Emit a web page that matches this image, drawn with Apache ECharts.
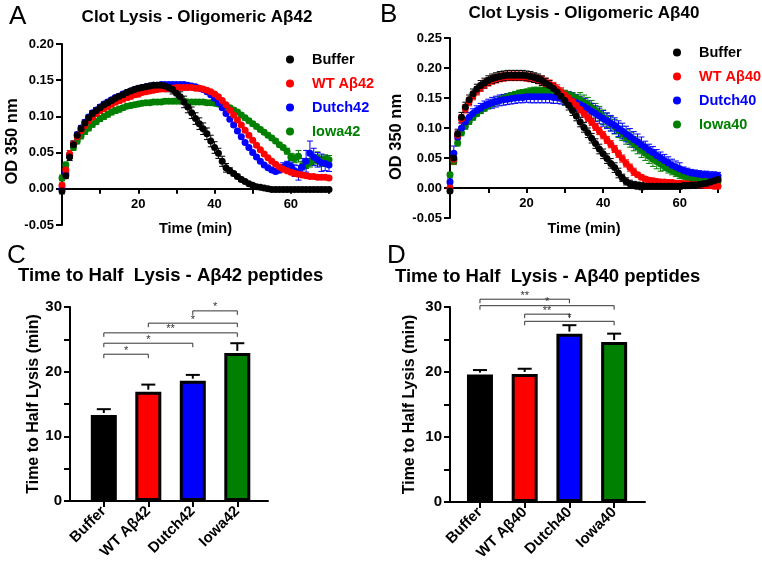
<!DOCTYPE html>
<html>
<head>
<meta charset="utf-8">
<script src="https://cdn.jsdelivr.net/npm/echarts@6/dist/echarts.min.js"></script>
<style>
  html, body { margin: 0; padding: 0; background: #fff; }
  #chart { width: 762px; height: 573px; }
</style>
</head>
<body>
<div id="chart"></div>
<script>
// time points (min) shared by both clot lysis panels
const minutes = [0,1,2,3,4,5,6,7,8,9,10,11,12,13,14,15,16,17,18,19,20,21,22,23,24,25,26,27,28,29,
  30,31,32,33,34,35,36,37,38,39,40,41,42,43,44,45,46,47,48,49,50,51,52,53,54,55,56,57,58,59,
  60,61,62,63,64,65,66,67,68,69,70];

// Panel A - Aβ42, OD 350 nm
const a42Buffer = [-0.003,0.018,0.044,0.061,0.074,0.083,0.091,0.098,0.104,0.108,
  0.112,0.116,0.119,0.122,0.125,0.128,0.130,0.133,0.135,0.137,
  0.139,0.140,0.141,0.142,0.143,0.143,0.143,0.142,0.140,0.137,
  0.132,0.127,0.120,0.113,0.105,0.097,0.090,0.083,0.076,0.066,
  0.057,0.049,0.038,0.029,0.025,0.021,0.017,0.013,0.010,0.007,
  0.005,0.003,0.002,0.001,0.000,-0.001,-0.001,-0.001,-0.001,-0.001,
  -0.001,-0.001,-0.001,-0.001,-0.001,-0.001,-0.001,-0.001,-0.001,-0.001,-0.001];
const a42Wt = [0.005,0.026,0.048,0.062,0.072,0.080,0.087,0.094,0.099,0.104,
  0.108,0.111,0.114,0.117,0.120,0.122,0.124,0.126,0.128,0.130,
  0.131,0.133,0.134,0.135,0.136,0.137,0.138,0.138,0.139,0.139,
  0.140,0.140,0.140,0.140,0.140,0.139,0.139,0.138,0.136,0.134,
  0.131,0.127,0.122,0.116,0.109,0.102,0.095,0.088,0.081,0.074,
  0.067,0.060,0.054,0.048,0.043,0.038,0.034,0.030,0.027,0.025,
  0.023,0.021,0.020,0.019,0.018,0.017,0.017,0.016,0.016,0.016,0.015];
const a42Dutch = [0.000,0.022,0.046,0.062,0.075,0.084,0.092,0.099,0.105,0.109,
  0.113,0.117,0.120,0.123,0.126,0.128,0.131,0.133,0.135,0.137,
  0.138,0.140,0.141,0.142,0.143,0.143,0.144,0.144,0.144,0.144,
  0.144,0.144,0.144,0.143,0.142,0.141,0.139,0.137,0.134,0.130,
  0.125,0.119,0.112,0.104,0.096,0.088,0.080,0.072,0.064,0.057,
  0.050,0.044,0.038,0.033,0.029,0.026,0.024,0.026,0.030,0.033,
  0.031,0.025,0.022,0.030,0.038,0.049,0.044,0.040,0.036,0.035,0.033];
const a42Iowa = [0.015,0.033,0.046,0.057,0.066,0.073,0.079,0.084,0.089,0.093,
  0.097,0.100,0.103,0.106,0.108,0.110,0.112,0.114,0.115,0.116,
  0.117,0.118,0.119,0.119,0.120,0.120,0.120,0.121,0.121,0.121,
  0.121,0.121,0.121,0.120,0.120,0.120,0.120,0.120,0.119,0.119,
  0.118,0.117,0.116,0.114,0.112,0.109,0.106,0.102,0.098,0.094,
  0.090,0.086,0.082,0.078,0.074,0.070,0.066,0.061,0.057,0.052,
  0.044,0.042,0.045,0.032,0.033,0.036,0.040,0.043,0.038,0.041,0.040];

const a42BufferErr = [0.004,0.004,0.005,0.005,0.004,0.004,0.004,0.004,0.004,0.004,
  0.004,0.003,0.003,0.003,0.003,0.003,0.003,0.003,0.003,0.003,
  0.003,0.003,0.003,0.003,0.003,0.003,0.003,0.003,0.006,0.006,
  0.007,0.007,0.008,0.008,0.008,0.008,0.008,0.008,0.008,0.008,
  0.008,0.007,0.007,0.006,0.004,0.003,0.003,0.003,0.002,0.002,
  0.002,0.001,0.001,0.001,0.001,0.001,0.001,0.001,0.001,0.001,
  0.001,0.001,0.001,0.001,0.001,0.001,0.001,0.001,0.001,0.001,0.001];
const a42WtErr = [0.003,0.004,0.005,0.004,0.004,0.004,0.004,0.004,0.004,0.004,
  0.004,0.004,0.004,0.004,0.004,0.004,0.004,0.004,0.004,0.004,
  0.004,0.002,0.002,0.002,0.002,0.002,0.002,0.002,0.002,0.002,
  0.002,0.002,0.002,0.002,0.002,0.002,0.002,0.002,0.002,0.002,
  0.002,0.002,0.002,0.002,0.002,0.002,0.002,0.002,0.002,0.002,
  0.002,0.002,0.002,0.002,0.002,0.002,0.002,0.002,0.002,0.002,
  0.002,0.002,0.002,0.002,0.002,0.002,0.002,0.002,0.002,0.002,0.002];
const a42DutchErr = [0.003,0.003,0.003,0.003,0.003,0.003,0.003,0.003,0.003,0.003,
  0.003,0.003,0.003,0.003,0.003,0.003,0.003,0.003,0.003,0.003,
  0.003,0.002,0.002,0.002,0.002,0.002,0.002,0.002,0.002,0.002,
  0.002,0.002,0.002,0.002,0.002,0.002,0.002,0.002,0.002,0.002,
  0.002,0.002,0.002,0.002,0.002,0.002,0.002,0.002,0.002,0.002,
  0.002,0.002,0.002,0.002,0.002,0.002,0.003,0.004,0.006,0.005,
  0.006,0.008,0.010,0.012,0.015,0.017,0.012,0.010,0.012,0.010,0.009];
const a42IowaErr = [0.004,0.004,0.004,0.004,0.004,0.004,0.004,0.004,0.004,0.004,
  0.004,0.004,0.004,0.004,0.004,0.004,0.003,0.003,0.003,0.003,
  0.003,0.003,0.003,0.003,0.003,0.003,0.003,0.003,0.003,0.003,
  0.003,0.003,0.003,0.003,0.003,0.003,0.003,0.003,0.003,0.003,
  0.003,0.003,0.003,0.003,0.003,0.003,0.003,0.003,0.003,0.003,
  0.003,0.003,0.003,0.003,0.003,0.003,0.003,0.003,0.003,0.004,
  0.005,0.006,0.008,0.006,0.005,0.006,0.007,0.008,0.007,0.006,0.006];

// Panel B - Aβ40, OD 350 nm
const a40Buffer = [-0.005,0.050,0.090,0.118,0.135,0.147,0.157,0.165,0.171,0.175,
  0.179,0.182,0.184,0.186,0.187,0.188,0.188,0.188,0.188,0.188,
  0.187,0.186,0.184,0.182,0.179,0.175,0.171,0.166,0.160,0.153,
  0.146,0.138,0.129,0.120,0.110,0.101,0.092,0.083,0.074,0.065,
  0.057,0.049,0.041,0.034,0.025,0.017,0.011,0.007,0.005,0.004,
  0.003,0.003,0.003,0.003,0.003,0.003,0.003,0.003,0.003,0.003,
  0.003,0.004,0.004,0.005,0.005,0.006,0.007,0.008,0.010,0.012,0.014];
const a40Wt = [0.000,0.048,0.088,0.115,0.132,0.144,0.154,0.162,0.168,0.173,
  0.177,0.180,0.182,0.184,0.185,0.186,0.186,0.186,0.186,0.186,
  0.185,0.184,0.183,0.181,0.179,0.176,0.173,0.169,0.165,0.160,
  0.155,0.150,0.144,0.138,0.131,0.124,0.117,0.110,0.102,0.095,
  0.088,0.080,0.073,0.065,0.057,0.049,0.041,0.034,0.027,0.022,
  0.018,0.015,0.013,0.012,0.011,0.010,0.010,0.009,0.009,0.008,
  0.008,0.007,0.007,0.006,0.006,0.005,0.005,0.004,0.004,0.003,0.003];
const a40Dutch = [0.010,0.058,0.085,0.100,0.110,0.118,0.124,0.129,0.133,0.137,
  0.140,0.142,0.144,0.146,0.147,0.148,0.149,0.150,0.151,0.151,
  0.152,0.152,0.152,0.152,0.152,0.152,0.152,0.151,0.151,0.150,
  0.149,0.147,0.145,0.142,0.139,0.136,0.132,0.128,0.124,0.120,
  0.116,0.112,0.108,0.104,0.099,0.095,0.090,0.086,0.081,0.077,
  0.072,0.068,0.063,0.059,0.054,0.050,0.046,0.042,0.038,0.035,
  0.032,0.029,0.027,0.025,0.024,0.023,0.022,0.022,0.021,0.021,0.020];
const a40Iowa = [0.022,0.045,0.075,0.092,0.103,0.111,0.118,0.124,0.129,0.133,
  0.137,0.141,0.144,0.147,0.150,0.152,0.154,0.156,0.158,0.159,
  0.160,0.161,0.162,0.162,0.162,0.162,0.162,0.161,0.160,0.159,
  0.157,0.155,0.153,0.150,0.147,0.143,0.139,0.134,0.129,0.124,
  0.118,0.113,0.107,0.102,0.096,0.091,0.085,0.080,0.074,0.069,
  0.063,0.058,0.053,0.048,0.044,0.040,0.036,0.032,0.029,0.026,
  0.023,0.020,0.018,0.016,0.015,0.014,0.013,0.012,0.012,0.011,0.011];

const a40BufferErr = [0.003,0.009,0.008,0.008,0.008,0.008,0.008,0.008,0.008,0.008,
  0.008,0.008,0.008,0.008,0.008,0.008,0.008,0.008,0.008,0.008,
  0.008,0.008,0.008,0.008,0.008,0.008,0.008,0.008,0.008,0.008,
  0.008,0.008,0.008,0.008,0.008,0.008,0.008,0.008,0.008,0.008,
  0.008,0.008,0.008,0.008,0.008,0.006,0.006,0.006,0.006,0.006,
  0.006,0.005,0.005,0.005,0.005,0.005,0.005,0.005,0.005,0.005,
  0.005,0.005,0.005,0.005,0.005,0.005,0.005,0.005,0.005,0.005,0.005];
const a40WtErr = [0.003,0.008,0.007,0.007,0.007,0.007,0.007,0.007,0.007,0.007,
  0.007,0.007,0.007,0.007,0.007,0.007,0.007,0.007,0.007,0.007,
  0.007,0.007,0.007,0.007,0.007,0.007,0.007,0.007,0.007,0.007,
  0.007,0.006,0.006,0.006,0.006,0.006,0.006,0.006,0.006,0.006,
  0.006,0.006,0.006,0.006,0.006,0.006,0.006,0.006,0.006,0.004,
  0.004,0.004,0.004,0.004,0.004,0.004,0.004,0.004,0.004,0.004,
  0.004,0.004,0.004,0.004,0.004,0.004,0.004,0.004,0.004,0.004,0.004];
const a40DutchErr = [0.005,0.012,0.010,0.008,0.008,0.008,0.008,0.008,0.008,0.008,
  0.008,0.009,0.009,0.009,0.009,0.009,0.009,0.009,0.009,0.009,
  0.009,0.010,0.010,0.010,0.010,0.010,0.010,0.010,0.010,0.010,
  0.010,0.013,0.013,0.013,0.013,0.013,0.013,0.013,0.013,0.013,
  0.013,0.013,0.013,0.013,0.013,0.013,0.013,0.013,0.013,0.013,
  0.013,0.010,0.010,0.010,0.010,0.010,0.010,0.010,0.010,0.010,
  0.010,0.006,0.006,0.006,0.006,0.006,0.006,0.006,0.006,0.006,0.006];
const a40IowaErr = [0.004,0.006,0.005,0.005,0.005,0.005,0.005,0.005,0.005,0.005,
  0.005,0.005,0.005,0.005,0.005,0.005,0.005,0.005,0.005,0.005,
  0.005,0.006,0.006,0.006,0.006,0.006,0.006,0.006,0.006,0.006,
  0.006,0.006,0.006,0.006,0.012,0.012,0.012,0.012,0.012,0.012,
  0.012,0.012,0.012,0.012,0.012,0.012,0.012,0.012,0.012,0.012,
  0.012,0.012,0.012,0.012,0.012,0.012,0.007,0.007,0.007,0.007,
  0.007,0.007,0.007,0.007,0.007,0.007,0.007,0.007,0.007,0.007,0.007];

// Panels C / D - time to half lysis (min)
const catsC = ['Buffer', 'WT Aβ42', 'Dutch42', 'Iowa42'];
const halfC = [13.3, 16.9, 18.6, 22.9];
const halfCErr = [0.9, 1.1, 0.9, 1.5];
const catsD = ['Buffer', 'WT Aβ40', 'Dutch40', 'Iowa40'];
const halfD = [19.6, 19.7, 25.9, 24.6];
const halfDErr = [0.7, 0.8, 1.3, 1.3];

// significance brackets: [from, to, height], stars
const sigC = [[0, 1, 22.7], [0, 2, 24.4], [0, 3, 26.0], [1, 3, 27.5], [2, 3, 29.4]];
const sigCStars = ['*', '*', '**', '*', '*'];
const sigD = [[0, 2, 31.2], [0, 3, 30.2], [1, 2, 28.9], [1, 3, 27.8]];
const sigDStars = ['**', '*', '**', '*'];

const FONT = '"Liberation Sans", Arial, sans-serif';
const groupColors = ['#000000', '#ff0000', '#0000ff', '#008000'];

const chart = echarts.init(document.getElementById('chart'));

function xy(vals) { return minutes.map((t, i) => [t, vals[i]]); }
function xye(vals, errs) { return minutes.map((t, i) => [t, vals[i], errs[i]]); }

// vertical error bars with caps
function errBars(idx, color, vals, errs) {
  return {
    type: 'custom', xAxisIndex: idx, yAxisIndex: idx, silent: true,
    data: xye(vals, errs),
    renderItem(params, api) {
      const t = api.value(0), v = api.value(1), e = api.value(2);
      const hi = api.coord([t, v + e]), lo = api.coord([t, v - e]);
      const st = { stroke: color, lineWidth: 1 };
      return { type: 'group', children: [
        { type: 'line', shape: { x1: hi[0], y1: hi[1], x2: lo[0], y2: lo[1] }, style: st },
        { type: 'line', shape: { x1: hi[0] - 3, y1: hi[1], x2: hi[0] + 3, y2: hi[1] }, style: st },
        { type: 'line', shape: { x1: lo[0] - 3, y1: lo[1], x2: lo[0] + 3, y2: lo[1] }, style: st }
      ]};
    }
  };
}

function dots(idx, name, color, vals) {
  return { type: 'scatter', name, xAxisIndex: idx, yAxisIndex: idx, data: xy(vals),
    symbol: 'circle', symbolSize: 7, itemStyle: { color, opacity: 1 }, silent: true };
}

function bars(idx, vals) {
  return { type: 'bar', xAxisIndex: idx, yAxisIndex: idx, barWidth: 26, silent: true,
    data: vals.map((v, i) => ({ value: [i, v], itemStyle: { color: groupColors[i] } })),
    itemStyle: { borderColor: '#000', borderWidth: 3 } };
}

function barErr(idx, vals, errs) {
  return { type: 'custom', xAxisIndex: idx, yAxisIndex: idx, silent: true, z: 3,
    data: vals.map((v, i) => [i, v, errs[i]]),
    renderItem(params, api) {
      const i = api.value(0), v = api.value(1), e = api.value(2);
      const lo = api.coord([i, v]), hi = api.coord([i, v + e]);
      const st = { stroke: '#000', lineWidth: 2 };
      return { type: 'group', children: [
        { type: 'line', shape: { x1: lo[0], y1: lo[1] - 2, x2: hi[0], y2: hi[1] }, style: st },
        { type: 'line', shape: { x1: hi[0] - 7, y1: hi[1], x2: hi[0] + 7, y2: hi[1] }, style: st }
      ]};
    }
  };
}

function brackets(idx, sig, stars) {
  return { type: 'custom', xAxisIndex: idx, yAxisIndex: idx, silent: true, clip: false,
    data: sig,
    renderItem(params, api) {
      const a = api.coord([api.value(0), api.value(2)]);
      const b = api.coord([api.value(1), api.value(2)]);
      return { type: 'group', children: [
        { type: 'polyline', shape: { points: [[a[0], a[1] + 4], a, b, [b[0], b[1] + 4]] },
          style: { stroke: '#333', lineWidth: 1, fill: null } },
        { type: 'text', x: (a[0] + b[0]) / 2, y: a[1] + 2,
          style: { text: stars[params.dataIndex], fill: '#333', font: '11px ' + FONT,
            textAlign: 'center', align: 'center', textVerticalAlign: 'bottom', verticalAlign: 'bottom' } }
      ]};
    }
  };
}

function txt(x, y, s, font, align) {
  return { type: 'text', x, y, silent: true,
    style: { text: s, fill: '#000', font, textAlign: align, align,
      textVerticalAlign: 'middle', verticalAlign: 'middle' } };
}

const axisLineStyle = { color: '#000', width: 2 };
const tickLabel = { color: '#000', fontWeight: 'bold', fontFamily: FONT };

// the time axis sits on OD = 0, moved up from the grid bottom
function timeAxis(idx, offset) {
  return { type: 'value', gridIndex: idx, min: 0, max: 70, interval: 10, offset,
    axisLine: { show: true, onZero: false, lineStyle: axisLineStyle },
    axisTick: { show: true, length: 5, lineStyle: axisLineStyle },
    axisLabel: Object.assign({ fontSize: 13, margin: 9,
      formatter: v => (v > 0 && v % 20 === 0) ? String(v) : '' }, tickLabel),
    splitLine: { show: false },
    name: 'Time (min)', nameLocation: 'middle', nameGap: 33,
    nameTextStyle: { color: '#000', fontWeight: 'bold', fontSize: 14.5, fontFamily: FONT } };
}

function odAxis(idx, max, gap, shift) {
  return { type: 'value', gridIndex: idx, min: -0.05, max, interval: 0.05,
    axisLine: { show: true, onZero: false, lineStyle: axisLineStyle },
    axisTick: { show: true, length: 6, lineStyle: axisLineStyle },
    axisLabel: Object.assign({ fontSize: 13, margin: 8, formatter: v => v.toFixed(2) }, tickLabel),
    splitLine: { show: false },
    name: 'OD 350 nm', nameLocation: 'middle', nameGap: gap,
    nameTextStyle: { color: '#000', fontWeight: 'bold', fontSize: 16.5, fontFamily: FONT,
      padding: [0, shift, 0, 0] } };
}

function groupAxis(idx, min, cats) {
  return { type: 'value', gridIndex: idx, min, max: 3.69,
    axisLine: { show: true, onZero: false, lineStyle: axisLineStyle },
    axisTick: { show: true, length: 6, customValues: [0, 1, 2, 3], lineStyle: axisLineStyle },
    axisLabel: Object.assign({ fontSize: 15, margin: 8, rotate: 45, customValues: [0, 1, 2, 3],
      formatter: v => cats[Math.round(v)] }, tickLabel),
    splitLine: { show: false } };
}

function halfAxis(idx, gap) {
  return { type: 'value', gridIndex: idx, min: 0, max: 30, interval: 5,
    axisLine: { show: true, onZero: false, lineStyle: axisLineStyle },
    axisTick: { show: true, length: 6, lineStyle: axisLineStyle },
    axisLabel: Object.assign({ fontSize: 15, margin: 8,
      formatter: v => v % 10 === 0 ? String(v) : '' }, tickLabel),
    splitLine: { show: false },
    name: 'Time to Half Lysis (min)', nameLocation: 'middle', nameGap: gap,
    nameTextStyle: { color: '#000', fontWeight: 'bold', fontSize: 16, fontFamily: FONT } };
}

function legendFor(left, top, names) {
  return { left, top, orient: 'vertical', icon: 'circle', itemWidth: 34, itemHeight: 8, itemGap: 9,
    selectedMode: false,
    data: names.map((n, i) => ({ name: n, textStyle: { color: groupColors[i] } })),
    textStyle: { fontWeight: 'bold', fontSize: 14.5, fontFamily: FONT } };
}

const option = {
  backgroundColor: '#fff',
  animation: false,
  grid: [
    { left: 62, top: 44, width: 267, height: 181 },
    { left: 450, top: 38, width: 268, height: 180 },
    { left: 70, top: 307, width: 198, height: 194 },
    { left: 450, top: 307, width: 195, height: 195 }
  ],
  xAxis: [timeAxis(0, -36.2), timeAxis(1, -30), groupAxis(2, -0.76, catsC), groupAxis(3, -0.67, catsD)],
  yAxis: [odAxis(0, 0.2, 41, 14), odAxis(1, 0.25, 45, 18), halfAxis(2, 28), halfAxis(3, 32)],
  legend: [
    legendFor(281, 47, ['Buffer', 'WT Aβ42', 'Dutch42', 'Iowa42']),
    legendFor(668, 40, ['Buffer', 'WT Aβ40', 'Dutch40', 'Iowa40'])
  ],
  graphic: [
    txt(9, 17, 'A', '26px ' + FONT, 'left'),
    txt(197, 17, 'Clot Lysis - Oligomeric Aβ42', 'bold 17px ' + FONT, 'center'),
    txt(380, 15, 'B', '26px ' + FONT, 'left'),
    txt(584, 13, 'Clot Lysis - Oligomeric Aβ40', 'bold 17px ' + FONT, 'center'),
    txt(7, 256, 'C', '26px ' + FONT, 'left'),
    txt(18, 276, 'Time to Half  Lysis - Aβ42 peptides', 'bold 18.5px ' + FONT, 'left'),
    txt(387, 256, 'D', '26px ' + FONT, 'left'),
    txt(395, 277, 'Time to Half  Lysis - Aβ40 peptides', 'bold 18.5px ' + FONT, 'left')
  ],
  series: [
    errBars(0, '#008000', a42Iowa, a42IowaErr), dots(0, 'Iowa42', '#008000', a42Iowa),
    errBars(0, '#0000ff', a42Dutch, a42DutchErr), dots(0, 'Dutch42', '#0000ff', a42Dutch),
    errBars(0, '#ff0000', a42Wt, a42WtErr), dots(0, 'WT Aβ42', '#ff0000', a42Wt),
    errBars(0, '#000000', a42Buffer, a42BufferErr), dots(0, 'Buffer', '#000000', a42Buffer),
    errBars(1, '#008000', a40Iowa, a40IowaErr), dots(1, 'Iowa40', '#008000', a40Iowa),
    errBars(1, '#0000ff', a40Dutch, a40DutchErr), dots(1, 'Dutch40', '#0000ff', a40Dutch),
    errBars(1, '#ff0000', a40Wt, a40WtErr), dots(1, 'WT Aβ40', '#ff0000', a40Wt),
    errBars(1, '#000000', a40Buffer, a40BufferErr), dots(1, 'Buffer', '#000000', a40Buffer),
    bars(2, halfC), barErr(2, halfC, halfCErr), brackets(2, sigC, sigCStars),
    bars(3, halfD), barErr(3, halfD, halfDErr), brackets(3, sigD, sigDStars)
  ]
};

chart.setOption(option);
</script>
</body>
</html>
